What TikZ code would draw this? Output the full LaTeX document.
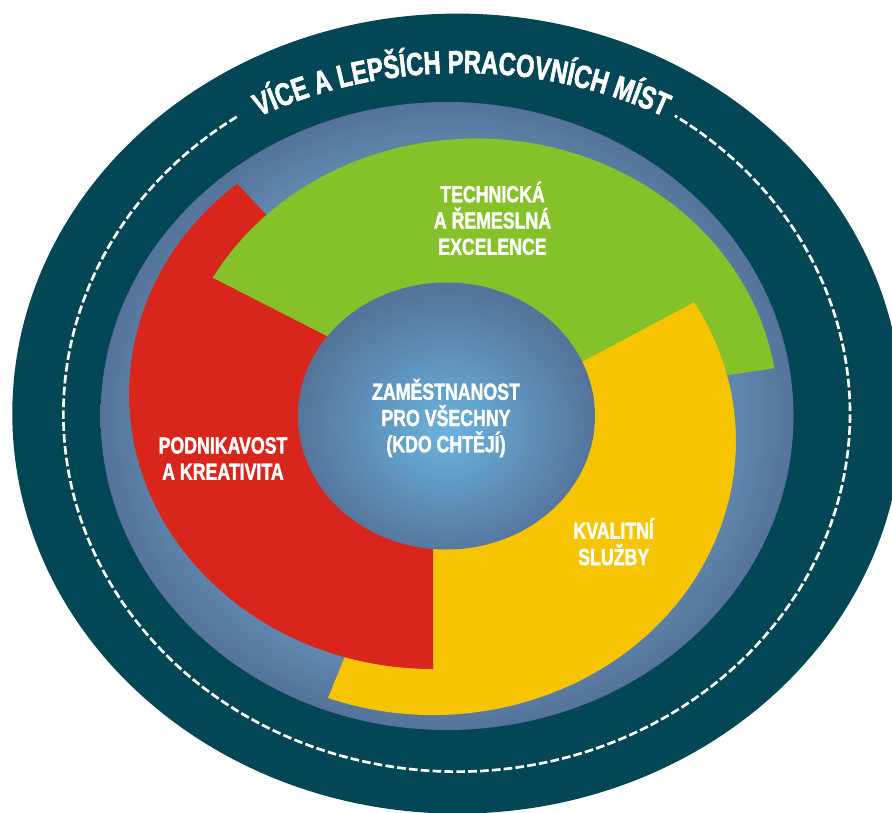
\documentclass[tikz,border=0pt]{standalone}
\usepackage{fontspec}
\usetikzlibrary{decorations.text,calc}

% Heavy condensed sans for all labels
\newfontfamily\labelfont{Liberation Sans Bold}[FakeStretch=0.76, FakeBold=1.6]
\newfontfamily\titlefont{Liberation Sans Bold}[FakeStretch=0.74, FakeBold=1.8]
\newcommand\titlestyle{\titlefont\fontsize{24}{26}\selectfont}

\definecolor{ringdark}{HTML}{034756}
\definecolor{steelin}{HTML}{5F87AD}
\definecolor{steelout}{HTML}{55729A}
\definecolor{corein}{HTML}{6CB3DF}
\definecolor{coremid}{HTML}{62A0CA}
\definecolor{coreout}{HTML}{55749B}
\definecolor{segred}{HTML}{D8261D}
\definecolor{seggreen}{HTML}{85C128}
\definecolor{segyellow}{HTML}{F6C400}

% ring and core gradients (25bp = edge of the filled shape)
\pgfdeclareradialshading{steelshade}{\pgfpoint{0bp}{0bp}}{color(0bp)=(steelin); color(21bp)=(steelin); color(25bp)=(steelout); color(50bp)=(steelout)}
\pgfdeclareradialshading{coreshade}{\pgfpoint{0bp}{-3bp}}{color(0bp)=(corein); color(8bp)=(coremid); color(25bp)=(coreout); color(50bp)=(coreout)}

\tikzset{
  seglabel/.style={text=white, align=center, inner sep=0pt,
    font=\labelfont\fontsize{17.5}{19.7}\selectfont},
  ringdash/.style={white, line width=2pt, dash pattern=on 6.5pt off 2.4pt},
}

\begin{document}
\begin{tikzpicture}[x=0.75pt,y=0.75pt]
\useasboundingbox (0,0) rectangle (892,-813);
\clip (0,0) rectangle (892,-813);
\fill[white] (0,0) rectangle (892,-813);

% outer dark band
\fill[ringdark] (457.3,-413.6) ellipse[x radius=445, y radius=400];

% dashed ring, open at the top for the title
\draw[ringdash] ($(456.7,-413.6)+(124:393.3 and 358)$)
  arc[start angle=124, end angle=416.3, x radius=393.3, y radius=358];

% title along the top of the band
\path[decorate, decoration={text along path, text align=center, text color=white,
    text={|\titlestyle|VÍCE A LEPŠÍCH PRACOVNÍCH MÍST}}]
  ($(461.5,-478)+(128:448 and 405)$) arc[start angle=128, end angle=52, x radius=448, y radius=405];

% steel blue ring
\shade[shading=steelshade] (447,-416) ellipse[x radius=346.5, y radius=314];

% the three sectors (yellow under red, red under green, green under yellow)
\begin{scope}[shift={(433,-441)}, xscale=1.105]
  \fill[segyellow] (0,0) -- (-110.3:274) arc[start angle=-110.3, end angle=30.4, radius=274] -- cycle;
\end{scope}
\begin{scope}[shift={(433,-394)}, xscale=1.105]
  \fill[segred] (0,0) -- (130.1:275) arc[start angle=130.1, end angle=270, radius=275] -- cycle;
\end{scope}
\begin{scope}[shift={(476,-412)}, xscale=1.105]
  \fill[seggreen] (0,0) -- (9.2:273.5) arc[start angle=9.2, end angle=150.6, radius=273.5] -- cycle;
\end{scope}
\begin{scope}
  \clip (560,0) rectangle (892,-813);
  \begin{scope}[shift={(433,-441)}, xscale=1.105]
    \fill[segyellow] (0,0) -- (-110.3:274) arc[start angle=-110.3, end angle=30.4, radius=274] -- cycle;
  \end{scope}
\end{scope}

% central disc
\shade[shading=coreshade] (446.5,-416) ellipse[x radius=148.5, y radius=133.5];

% labels
\node[seglabel] (core) at (446,-418) {ZAMĚSTNANOST\\PRO VŠECHNY\\(KDO CHTĚJÍ)};
\node[seglabel] (tech) at (492.5,-218.3) {TECHNICKÁ\\A ŘEMESLNÁ\\EXCELENCE};
\node[seglabel] (enterprise) at (223,-458.5) {PODNIKAVOST\\A KREATIVITA};
\node[seglabel] (service) at (613.7,-541.7) {KVALITNÍ\\SLUŽBY};
\end{tikzpicture}
\end{document}
